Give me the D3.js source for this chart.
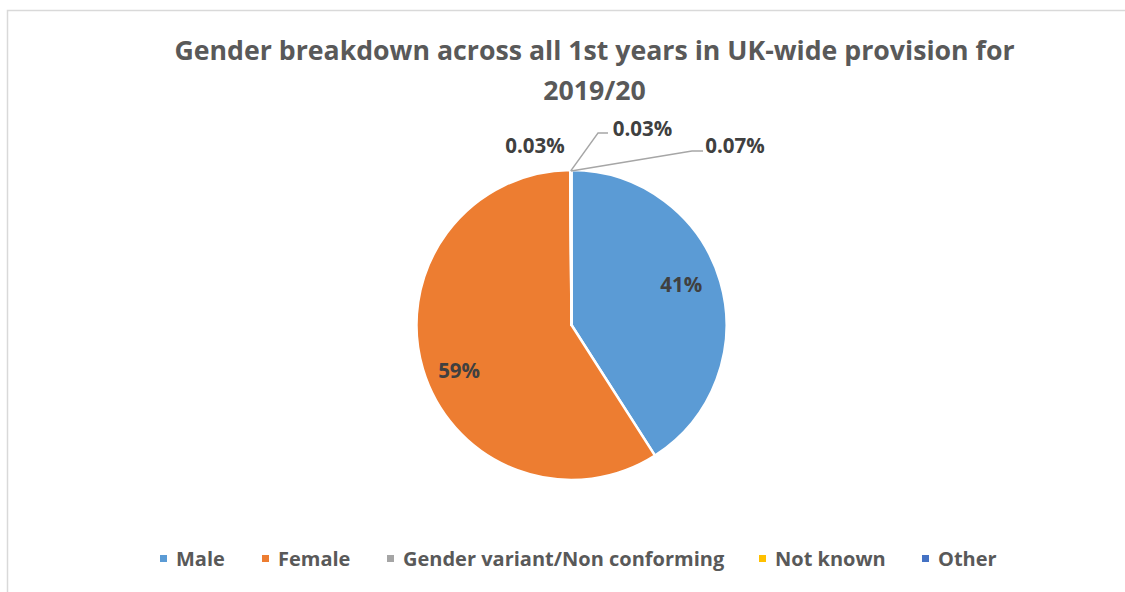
<!DOCTYPE html>
<html>
<head>
<meta charset="utf-8">
<script src="https://cdn.jsdelivr.net/npm/d3@7"></script>
<style>
  html, body { margin: 0; padding: 0; background: #fff; }
  svg { display: block; }
  text { font-family: "Open Sans", Lato, sans-serif; font-weight: bold; }
</style>
</head>
<body>
<svg id="chart" width="1125" height="592"></svg>
<script>
// Gender breakdown data (percent of 1st years)
const categories = ["Male", "Female", "Gender variant/Non conforming", "Not known", "Other"];
const shares = [41, 59, 0.03, 0.03, 0.07];
const shareLabels = ["41%", "59%", "0.03%", "0.03%", "0.07%"];
const colors = ["#5B9BD5", "#ED7D31", "#A5A5A5", "#FFC000", "#4472C4"];
const titleLines = ["Gender breakdown across all 1st years in UK-wide provision for", "2019/20"];

const W = 1125, H = 592;
const cx = 571.5, cy = 325, R = 155;

const svg = d3.select("#chart");

// chart area frame
svg.append("rect")
  .attr("x", 7.5).attr("y", 10.5)
  .attr("width", W + 20).attr("height", H + 20)
  .attr("fill", "#fff").attr("stroke", "#D9D9D9").attr("stroke-width", 1.5);

// title
svg.append("g").selectAll("text").data(titleLines).join("text")
  .attr("x", 594.5).attr("y", (d, i) => 60 + i * 40)
  .attr("text-anchor", "middle")
  .attr("font-size", 26.7)
  .attr("fill", "#595959")
  .text(d => d);

const rows = categories.map((c, i) => ({ name: c, value: shares[i], label: shareLabels[i], color: colors[i] }));

const pie = d3.pie().value(d => d.value).sort(null);
const arcs = pie(rows);
const arc = d3.arc().innerRadius(0).outerRadius(R);

const g = svg.append("g").attr("transform", `translate(${cx},${cy})`);

g.selectAll("path").data(arcs).join("path")
  .attr("d", arc)
  .attr("fill", d => d.data.color)
  .attr("stroke", "#fff")
  .attr("stroke-width", 2.5)
  .attr("stroke-linejoin", "round");

// labels placed inside the two large slices (polar position: angle in degrees, radius)
const insidePos = { "Male": [69.6, 117], "Female": [248.3, 121] };
// callout labels for the thin slices: text centre relative to pie centre, plus leader elbow
const calloutPos = {
  "Gender variant/Non conforming": { text: [-36.5, -180.5], leader: null },
  "Not known": { text: [71, -197], leader: [[26.5, -192], [36.5, -192]] },
  "Other": { text: [163.5, -180], leader: [[120.5, -174], [131.5, -174]] }
};

arcs.forEach(a => {
  const name = a.data.name;
  if (insidePos[name]) {
    const [deg, r] = insidePos[name];
    const t = deg * Math.PI / 180;
    g.append("text")
      .attr("x", r * Math.sin(t)).attr("y", -r * Math.cos(t))
      .attr("text-anchor", "middle").attr("dominant-baseline", "central")
      .attr("font-size", 20.5).attr("fill", "#404040")
      .text(a.data.label);
  } else if (calloutPos[name]) {
    const p = calloutPos[name];
    const mid = (a.startAngle + a.endAngle) / 2;
    const edge = [R * Math.sin(mid), -R * Math.cos(mid) + 1];
    if (p.leader) {
      g.append("polyline")
        .attr("points", [edge, ...p.leader].map(q => q.join(",")).join(" "))
        .attr("fill", "none").attr("stroke", "#A6A6A6").attr("stroke-width", 1.3);
    }
    g.append("text")
      .attr("x", p.text[0]).attr("y", p.text[1])
      .attr("text-anchor", "middle").attr("dominant-baseline", "central")
      .attr("font-size", 20.5).attr("fill", "#404040")
      .text(a.data.label);
  }
});

// legend
const legendY = 558.5;
const legendX = [160, 262, 387, 759, 922];
const lg = svg.append("g").selectAll("g").data(rows).join("g")
  .attr("transform", (d, i) => `translate(${legendX[i]},${legendY})`);
lg.append("rect")
  .attr("x", 0).attr("y", -3.5).attr("width", 7).attr("height", 7)
  .attr("fill", d => d.color);
lg.append("text")
  .attr("x", 16).attr("y", 0)
  .attr("dominant-baseline", "central")
  .attr("font-size", 20).attr("fill", "#595959")
  .text(d => d.name);
</script>
</body>
</html>
